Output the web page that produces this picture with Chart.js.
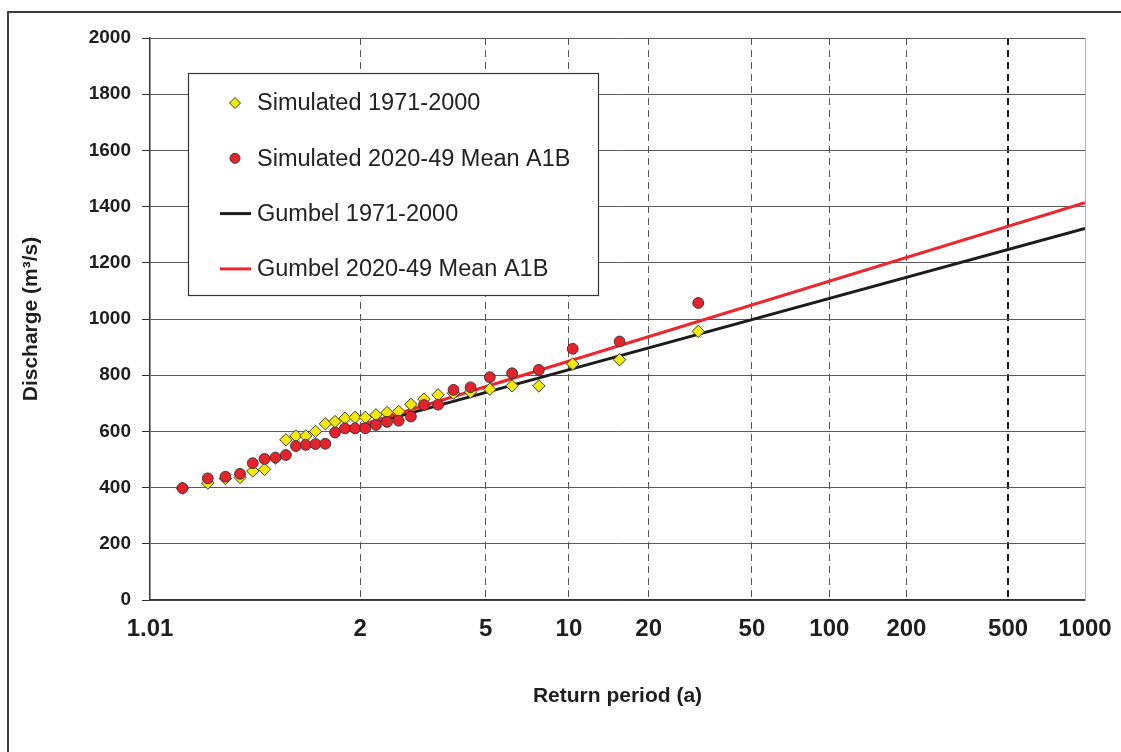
<!DOCTYPE html>
<html>
<head>
<meta charset="utf-8">
<script src="https://cdn.jsdelivr.net/npm/chart.js@4"></script>
<style>
  html, body { margin: 0; padding: 0; background: #fff; overflow: hidden; }
  #wrap { position: relative; width: 1121px; height: 752px; }
  #frame { position: absolute; left: 7px; top: 11px; width: 1200px; height: 800px; border: 2px solid #3c3c3c; }
  #flood { position: absolute; left: 0; top: 0; }
</style>
</head>
<body>
<div id="wrap">
  <div id="frame"></div>
  <canvas id="flood" width="1121" height="752"></canvas>
</div>
<script>
// return periods (a) of the ranked annual maxima, 30 years
const returnPeriods = [1.033, 1.069, 1.107, 1.148, 1.192, 1.24, 1.292, 1.348, 1.409, 1.476,
    1.55, 1.632, 1.722, 1.824, 1.938, 2.067, 2.214, 2.385, 2.583, 2.818,
    3.1, 3.444, 3.875, 4.429, 5.167, 6.2, 7.75, 10.33, 15.5, 31];
const sim1971 = [398, 416, 432, 436, 459, 465, 505, 570, 584, 584,
    600, 627, 635, 647, 650, 650, 659, 667, 671, 696,
    715, 730, 736, 740, 750, 762, 762, 840, 855, 956];
const sim2020 = [398, 433, 439, 449, 487, 502, 507, 516, 548, 552,
    555, 556, 596, 611, 611, 611, 623, 634, 638, 653,
    694, 695, 748, 757, 793, 807, 819, 894, 920, 1057];

// fitted Gumbel lines (end points)
const fitPeriods = [2, 1000];
const gumbel1971 = [616, 1322];
const gumbel2020 = [622, 1414];

const tickPeriods = ['1.01', '2', '5', '10', '20', '50', '100', '200', '500', '1000'];
const yTicks = [0, 200, 400, 600, 800, 1000, 1200, 1400, 1600, 1800, 2000];

const FONT = '"Liberation Sans", Arial, sans-serif';

// Gumbel reduced variate
function gumbel(T) {
    return -Math.log(-Math.log(1 - 1 / T));
}

function toPoints(periods, values) {
    return periods.map((T, i) => ({ x: gumbel(T), y: values[i] }));
}

// legend box inside the plot + thin right edge of the plot area
const legendBox = {
    id: 'legendBox',
    afterDraw(chart) {
        const ctx = chart.ctx;
        const a = chart.chartArea;
        ctx.save();
        ctx.strokeStyle = '#b0b0b0';
        ctx.lineWidth = 1;
        ctx.beginPath();
        ctx.moveTo(a.right + 0.5, a.top);
        ctx.lineTo(a.right + 0.5, a.bottom);
        ctx.stroke();

        const x0 = a.left + 38, y0 = a.top + 35, w = 410, h = 222;
        ctx.fillStyle = '#fff';
        ctx.fillRect(x0, y0, w, h);
        ctx.strokeStyle = '#333';
        ctx.lineWidth = 1.2;
        ctx.strokeRect(x0 + 0.5, y0 + 0.5, w, h);

        const sx = x0 + 47, tx = x0 + 69;
        ctx.font = '23.5px ' + FONT;
        ctx.textBaseline = 'middle';
        chart.data.datasets.forEach((ds, i) => {
            const y = y0 + 30 + i * 55.3;
            ctx.lineWidth = 1;
            if (ds.showLine) {
                ctx.strokeStyle = ds.borderColor;
                ctx.lineWidth = 3;
                ctx.beginPath();
                ctx.moveTo(sx - 15, y);
                ctx.lineTo(sx + 16, y);
                ctx.stroke();
            } else if (ds.pointStyle === 'rectRot') {
                ctx.fillStyle = ds.backgroundColor;
                ctx.strokeStyle = ds.borderColor;
                ctx.beginPath();
                ctx.moveTo(sx, y - 5.5);
                ctx.lineTo(sx + 5.5, y);
                ctx.lineTo(sx, y + 5.5);
                ctx.lineTo(sx - 5.5, y);
                ctx.closePath();
                ctx.fill();
                ctx.stroke();
            } else {
                ctx.fillStyle = ds.backgroundColor;
                ctx.strokeStyle = ds.borderColor;
                ctx.beginPath();
                ctx.arc(sx, y, 5, 0, Math.PI * 2);
                ctx.fill();
                ctx.stroke();
            }
            ctx.fillStyle = '#222';
            ctx.fillText(ds.label, tx, y + 1);
        });
        ctx.restore();
    }
};

const xMin = gumbel(1.01), xMax = gumbel(1000);

new Chart(document.getElementById('flood'), {
    type: 'scatter',
    data: {
        datasets: [
            {
                label: 'Simulated 1971-2000',
                data: toPoints(returnPeriods, sim1971),
                pointStyle: 'rectRot',
                pointRadius: 6.2,
                backgroundColor: '#f4ea00',
                borderColor: '#3a3a3a',
                borderWidth: 1,
                order: 1
            },
            {
                label: 'Simulated 2020-49 Mean A1B',
                data: toPoints(returnPeriods, sim2020),
                pointStyle: 'circle',
                pointRadius: 5.4,
                backgroundColor: '#e8212b',
                borderColor: '#3a3a3a',
                borderWidth: 1,
                order: 0
            },
            {
                label: 'Gumbel 1971-2000',
                data: toPoints(fitPeriods, gumbel1971),
                showLine: true,
                pointRadius: 0,
                borderColor: '#1c1c1c',
                borderWidth: 3,
                order: 3
            },
            {
                label: 'Gumbel 2020-49 Mean A1B',
                data: toPoints(fitPeriods, gumbel2020),
                showLine: true,
                pointRadius: 0,
                borderColor: '#f0242a',
                borderWidth: 3,
                order: 2
            }
        ]
    },
    options: {
        responsive: false,
        animation: false,
        layout: { padding: { left: 0, top: 38, right: 36, bottom: 0 } },
        plugins: {
            legend: { display: false },
            tooltip: { enabled: false }
        },
        scales: {
            x: {
                type: 'linear',
                min: xMin,
                max: xMax,
                afterBuildTicks: scale => {
                    scale.ticks = tickPeriods.map(t => ({ value: gumbel(parseFloat(t)) }));
                },
                afterFit: scale => {
                    scale.height = 152;
                    scale.paddingLeft = 0;
                    scale.paddingRight = 0;
                },
                ticks: {
                    autoSkip: false,
                    maxRotation: 0,
                    padding: 15,
                    color: '#1e1e1e',
                    font: { family: FONT, size: 24, weight: 'bold' },
                    callback: (v, i) => tickPeriods[i]
                },
                grid: {
                    drawTicks: false,
                    color: ctx => ctx.index === 0 ? 'rgba(0,0,0,0)' : (tickPeriods[ctx.index] === '500' ? '#1a1a1a' : '#555'),
                    lineWidth: ctx => tickPeriods[ctx.index] === '500' ? 2 : 1
                },
                border: {
                    color: '#333',
                    width: 1.5,
                    dash: ctx => ctx.index === 0 ? [] : [7, 5]
                },
                title: {
                    display: true,
                    text: 'Return period (a)',
                    color: '#1e1e1e',
                    font: { family: FONT, size: 21, weight: 'bold' },
                    padding: { top: 0, bottom: 43 }
                }
            },
            y: {
                min: 0,
                max: 2000,
                afterBuildTicks: scale => {
                    scale.ticks = yTicks.map(v => ({ value: v }));
                },
                afterFit: scale => { scale.width = 150; },
                ticks: {
                    padding: 11,
                    color: '#1e1e1e',
                    font: { family: FONT, size: 19, weight: 'bold' },
                    callback: v => String(v)
                },
                grid: {
                    color: '#5a5a5a',
                    lineWidth: 1,
                    tickLength: 8,
                    tickColor: '#333'
                },
                border: { color: '#333', width: 1.5 },
                title: {
                    display: true,
                    text: 'Discharge (m³/s)',
                    color: '#1e1e1e',
                    font: { family: FONT, size: 21, weight: 'bold' },
                    padding: { top: 19, bottom: 0 }
                }
            }
        }
    },
    plugins: [legendBox]
});
</script>
</body>
</html>
